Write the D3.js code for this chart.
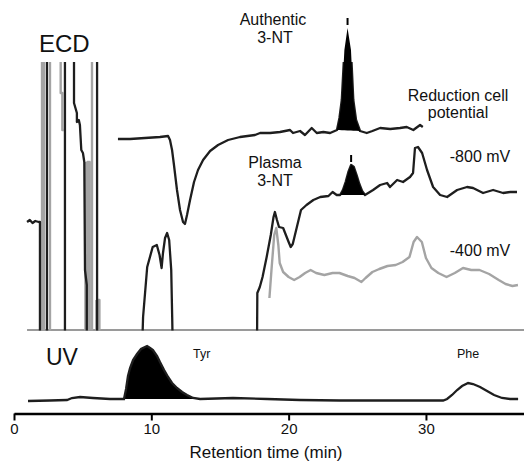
<!DOCTYPE html>
<html><head><meta charset="utf-8">
<script src="https://cdn.jsdelivr.net/npm/d3@7"></script>
<style>
html,body{margin:0;padding:0;background:#fff;}
svg{display:block;font-family:Arial, "Liberation Sans", sans-serif;}
</style></head>
<body>
<svg id="chart" width="524" height="465"></svg>
<script>
// ---------------- DATA ----------------
const xTicks = [0, 10, 20, 30];
const xLabel = "Retention time (min)";

// Authentic 3-NT standard (ECD, top trace) – time (min), signal (a.u.)
const authTime = [7.57,8.45,9.54,10.63,11.22,11.36,11.51,11.65,11.87,12.09,12.31,12.45,12.60,12.82,13.11,13.40,13.77,14.28,14.86,15.59,16.46,17.55,17.92,18.65,19.37,19.74,20.10,20.32,20.83,21.19,21.68,22.05,22.53,23.02,23.52,23.70,23.87,24.06,24.29,24.54,24.71,24.91,25.20,25.69,26.10,26.66,27.40,28.11,28.60,29.08,29.57,29.77];
const authSignal = [191,191,192,193,194,190,180,165,140,120,108,106,115,130,148,160,170,179,185,190,193,195,197,197,198,199,200,197,199,195,202,197,198,197,200,212,230,280,302,280,230,210,199,197,199,202,201,202,203,200,205,203];
const authPeak = [23.52, 25.20];

// Plasma, reduction cell -800 mV (black trace); null = pen lifted
const p800Time = [0.95,1.15,1.35,1.55,1.80,1.89,1.89,null,
  2.40,2.40,null,
  3.71,3.71,null,
  4.37,4.37,4.58,4.58,4.72,4.80,4.90,5.02,5.12,5.17,5.30,5.30,null,
  6.05,6.05,null,
  9.35,9.40,9.70,10.10,10.40,10.60,10.75,10.85,11.00,11.15,11.30,11.45,11.52,11.55,
  17.70,17.72,17.90,18.10,18.40,18.70,18.90,19.00,19.15,19.30,19.60,20.00,20.15,20.30,20.60,20.90,21.30,21.80,22.30,22.90,23.20,23.50,23.75,23.95,24.15,24.35,24.55,24.75,24.95,25.15,25.35,25.56,26.15,26.66,27.17,27.38,27.90,28.33,28.84,29.06,29.20,29.42,29.72,30.08,30.52,31.03,31.54,32.27,32.99,33.43,34.16,34.89,35.62,36.13,36.63];
const p800Signal = [108,110,107,109,108,108,-10,null,
  -10,300,null,
  300,-10,null,
  300,227,217,208,210,205,180,177,168,60,45,-10,null,
  300,-10,null,
  -10,13,63,83,85,75,62,77,92,97,90,60,13,-10,
  -10,37,43,53,73,95,113,118,110,103,102,88,83,86,103,120,125,130,133,134,138,135,135,140,148,158,165,163,155,146,139,135,140,145,147,143,150,148,153,157,182,183,177,160,143,135,133,140,143,142,137,140,137,138,138];
const plasmaPeak = [23.75, 25.56];

// Plasma, reduction cell -400 mV (grey trace); null = pen lifted
const p400Time = [2.04,2.04,null,2.18,2.18,null,2.62,2.62,null,
  3.40,3.40,3.52,3.52,3.62,null,
  5.20,5.20,5.35,5.35,5.50,5.50,null,
  5.68,5.68,null,
  6.00,6.00,6.12,6.12,6.22,6.22,null,
  18.60,18.75,18.95,19.10,19.25,19.35,19.60,20.00,20.40,20.80,21.20,21.60,22.00,22.60,23.20,23.70,24.30,24.80,25.30,25.60,26.10,26.60,27.20,27.80,28.30,28.80,29.10,29.35,29.70,30.00,30.40,30.90,31.50,32.10,32.70,33.30,33.90,34.60,35.30,35.80,36.30,36.70];
const p400Signal = [-10,300,null,300,-10,null,-10,300,null,
  300,237,237,200,200,null,
  168,-10,-10,168,168,-10,null,
  -10,300,null,
  30,-10,-10,30,30,-10,null,
  32,60,95,102,85,67,58,53,50,53,57,60,57,55,57,57,54,52,48,52,58,61,64,65,68,73,88,93,88,72,62,57,53,57,62,60,60,56,50,46,44,45];

// UV trace
const uvTime = [1.02,2.62,3.86,4.22,4.81,5.75,6.99,8.01,8.16,8.30,8.45,8.67,8.96,9.25,9.54,9.69,9.91,10.12,10.42,10.63,10.93,11.22,11.51,11.87,12.24,12.60,13.04,13.55,15.95,18.43,20.83,23.74,28.11,31.25,31.54,31.90,32.27,32.63,33.07,33.43,33.94,34.45,34.96,35.54,36.13,36.71];
const uvSignal = [0,0.5,1,3,4,3,2,2,12,25,33,41,47,52,54,55,53,51,45,39,31,24,18,13,9,6,3,2,3,2,1,0.5,0.5,0.5,2,6,11,15,18,17,14,10,6,3,2,2];
const tyrPeak = [8.01, 13.55];

const panelLabels = ["ECD", "UV"];
const peakLabels = ["Tyr", "Phe"];
const traceLabels = ["-800 mV", "-400 mV"];

// ---------------- DRAW ----------------
const svg = d3.select("#chart");
const x = d3.scaleLinear().domain([0, 37.14]).range([14, 524]);
const yE = d3.scaleLinear().domain([0, 270]).range([330, 60]);
const yU = d3.scaleLinear().domain([0, 60]).range([401, 341]);

const zip = (ts, vs) => ts.map((t, i) => ({t, v: vs[i]}));
const auth = zip(authTime, authSignal);
const p800 = zip(p800Time, p800Signal);
const p400 = zip(p400Time, p400Signal);
const uv = zip(uvTime, uvSignal);

svg.append("defs").append("clipPath").attr("id", "ecdClip")
  .append("rect").attr("x", 0).attr("y", yE(268)).attr("width", 524).attr("height", yE(-0.5) - yE(268));

const lineE = d3.line().defined(d => d.v !== null).x(d => x(d.t)).y(d => yE(d.v));
const lineU = d3.line().x(d => x(d.t)).y(d => yU(d.v));

function peakArea(data, win, y) {
  const pts = data.filter(d => d.v !== null && d.t >= win[0] - 1e-9 && d.t <= win[1] + 1e-9);
  const a = pts[0], b = pts[pts.length - 1];
  const base = t => a.v + (b.v - a.v) * (t - a.t) / (b.t - a.t);
  return {pts, path: d3.area().x(d => x(d.t)).y0(d => y(base(d.t))).y1(d => y(d.v))(pts)};
}

// ECD baseline
svg.append("line").attr("x1", x(0.95)).attr("x2", 524).attr("y1", yE(0)).attr("y2", yE(0))
  .attr("stroke", "#9a9a9a").attr("stroke-width", 2);

const ecd = svg.append("g").attr("clip-path", "url(#ecdClip)");
ecd.append("path").attr("d", lineE(p400)).attr("fill", "none")
  .attr("stroke", "#a4a4a4").attr("stroke-width", 2.4).attr("stroke-linejoin", "round");
ecd.append("path").attr("d", lineE(p800)).attr("fill", "none")
  .attr("stroke", "#1e1e1e").attr("stroke-width", 2.3).attr("stroke-linejoin", "round");
ecd.append("path").attr("d", lineE(auth)).attr("fill", "none")
  .attr("stroke", "#1e1e1e").attr("stroke-width", 2.3).attr("stroke-linejoin", "round");

// filled peaks + markers
[[auth, authPeak], [p800, plasmaPeak]].forEach(([data, win]) => {
  const pa = peakArea(data, win, yE);
  svg.append("path").attr("d", pa.path).attr("fill", "#000");
  const top = d3.greatest(pa.pts, d => d.v);
  svg.append("line").attr("x1", x(top.t)).attr("x2", x(top.t))
    .attr("y1", yE(top.v + 3)).attr("y2", yE(top.v + 10))
    .attr("stroke", "#000").attr("stroke-width", 2);
});

// UV
const tyr = peakArea(uv, tyrPeak, yU);
svg.append("path").attr("d", tyr.path).attr("fill", "#000");
svg.append("path").attr("d", lineU(uv)).attr("fill", "none")
  .attr("stroke", "#1e1e1e").attr("stroke-width", 2.3);

// Axis
const axis = svg.append("g").attr("transform", `translate(0,413.5)`)
  .call(d3.axisBottom(x).tickValues(xTicks).tickSize(7).tickSizeOuter(0).tickPadding(3));
axis.select(".domain").attr("stroke", "#000").attr("stroke-width", 2.5);
axis.selectAll(".tick line").attr("stroke", "#000").attr("stroke-width", 2);
axis.selectAll(".tick text").attr("font-size", 15).attr("font-family", "Arial, 'Liberation Sans', sans-serif").attr("fill", "#111");
svg.append("text").attr("x", 266).attr("y", 458).attr("text-anchor", "middle")
  .attr("font-size", 17).attr("fill", "#111").text(xLabel);

// Labels
const txt = (s, xx, yy, size, anchor) => svg.append("text").attr("x", xx).attr("y", yy)
  .attr("font-size", size).attr("text-anchor", anchor || "middle").attr("fill", "#111").text(s);
txt(panelLabels[0], 39, 52, 24, "start");
txt(panelLabels[1], 46, 365, 23, "start");
txt("Authentic", 273, 25, 16);
txt("3-NT", 275, 43, 16);
txt("Plasma", 275, 168, 16);
txt("3-NT", 275, 186, 16);
txt("Reduction cell", 458, 101, 16);
txt("potential", 458, 118, 16);
txt(traceLabels[0], 480, 162, 16);
txt(traceLabels[1], 480, 256, 16);
txt(peakLabels[0], 193, 358, 12.5, "start");
txt(peakLabels[1], 457, 358, 12.5, "start");
</script>
</body></html>
